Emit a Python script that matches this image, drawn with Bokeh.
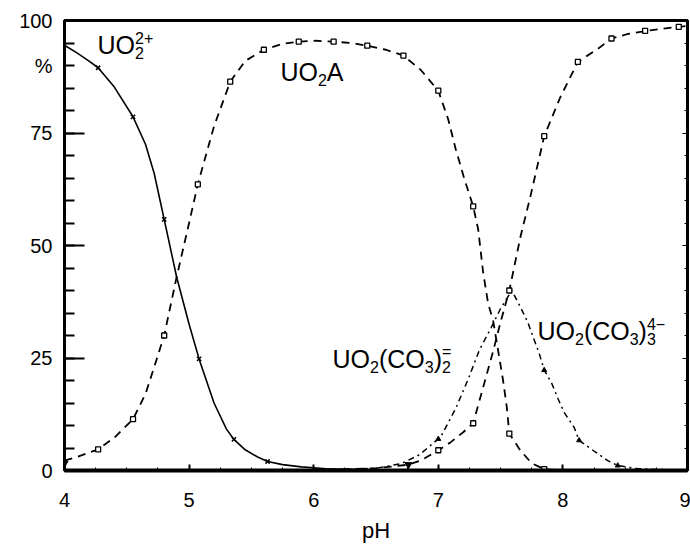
from bokeh.plotting import figure
from bokeh.models import LinearAxis, SingleIntervalTicker, FixedTicker, Label, CustomJSTickFormatter
from bokeh.embed import file_html
from bokeh.resources import INLINE

# Uranyl speciation (% of total U) versus pH
# UO2 2+ (solid line, x markers)
ph_uo2 = [4.0, 4.1, 4.2, 4.27, 4.4, 4.55, 4.65, 4.72, 4.8, 4.9, 5.0, 5.08, 5.2, 5.3,
          5.36, 5.45, 5.55, 5.63, 5.75, 5.9, 6.1, 6.4, 6.8, 9.0]
pct_uo2 = [94.5, 92.8, 90.9, 89.5, 85.2, 78.6, 72.5, 66.0, 55.8, 43.0, 32.5, 24.8, 15.0, 9.2,
           6.9, 4.6, 3.0, 2.0, 1.3, 0.8, 0.4, 0.2, 0.1, 0.0]
mk_ph_uo2 = [4.27, 4.55, 4.8, 5.08, 5.36, 5.63]
mk_pct_uo2 = [89.5, 78.6, 55.8, 24.8, 6.9, 2.0]

# UO2A complex (dashed line, square markers)
ph_uo2a = [4.0, 4.1, 4.27, 4.4, 4.55, 4.65, 4.72, 4.8, 4.9, 5.0, 5.07, 5.2, 5.33, 5.45,
           5.6, 5.75, 5.88, 6.02, 6.16, 6.3, 6.43, 6.58, 6.72, 6.86, 7.0, 7.08, 7.14,
           7.21, 7.28, 7.32, 7.36, 7.4, 7.44, 7.48, 7.52, 7.55, 7.57, 7.66, 7.75, 7.85, 8.0, 9.0]
pct_uo2a = [2.2, 3.0, 4.7, 7.3, 11.4, 17.0, 23.0, 30.0, 43.0, 55.0, 63.6, 76.5, 86.4, 91.0,
            93.5, 94.8, 95.3, 95.5, 95.3, 95.0, 94.4, 93.5, 92.2, 89.0, 84.4, 78.0, 71.4,
            64.7, 58.7, 53.6, 44.0, 37.1, 33.3, 26.7, 20.0, 14.0, 8.2, 4.4, 1.6, 0.3, 0.0, 0.0]
mk_ph_uo2a = [4.27, 4.55, 4.8, 5.07, 5.33, 5.6, 5.88, 6.16, 6.43, 6.72, 7.0, 7.28, 7.57, 7.85]
mk_pct_uo2a = [4.7, 11.4, 30.0, 63.6, 86.4, 93.5, 95.3, 95.3, 94.4, 92.2, 84.4, 58.7, 8.2, 0.3]

# UO2(CO3)2 2- (dash-dot line, filled triangle markers)
ph_dc = [6.0, 6.2, 6.5, 6.7, 6.85, 7.02, 7.14, 7.24, 7.33, 7.42, 7.5, 7.59, 7.67, 7.72,
         7.77, 7.81, 7.85, 7.91, 7.96, 8.01, 8.09, 8.13, 8.24, 8.36, 8.44, 8.6, 8.8, 9.0]
pct_dc = [0.1, 0.2, 0.5, 1.5, 3.5, 7.5, 13.8, 20.3, 26.8, 31.5, 36.0, 40.0, 35.7, 32.8,
          29.0, 26.0, 22.3, 19.4, 16.0, 12.9, 9.6, 6.7, 4.5, 2.2, 1.1, 0.4, 0.2, 0.1]
mk_ph_dc = [7.0, 7.85, 8.13, 8.44]
mk_pct_dc = [7.0, 22.3, 6.7, 1.1]

# UO2(CO3)3 4- (dashed line, square markers)
ph_tc = [6.0, 6.3, 6.5, 6.67, 6.76, 6.86, 7.0, 7.1, 7.2, 7.28, 7.36, 7.44, 7.5, 7.57,
         7.66, 7.74, 7.85, 7.98, 8.12, 8.28, 8.39, 8.52, 8.7, 8.93, 9.0]
pct_tc = [0.2, 0.3, 0.5, 1.0, 1.3, 2.2, 4.5, 6.3, 8.5, 10.5, 18.5, 26.5, 33.0, 40.0,
          52.0, 61.0, 74.3, 83.0, 90.8, 93.7, 96.0, 97.0, 97.8, 98.6, 98.8]
mk_ph_tc = [7.0, 7.28, 7.57, 7.85, 8.12, 8.39, 8.66, 8.93]
mk_pct_tc = [4.5, 10.5, 40.0, 74.3, 90.8, 96.0, 97.7, 98.6]

# curve starts drawn with a small down-pointing wedge
start_ph = [4.0, 6.76]
start_pct = [1.6, 1.3]

y_tick_values = [0, 25, 50, 75, 100]
y_unit_at = 90          # height of the "%" unit mark on the y scale

W, H = 690, 546
LEFT, RIGHT, TOP, BOTTOM = 64, 3, 20, 76
FONT = "Liberation Sans"

p = figure(width=W, height=H, x_range=(4, 9), y_range=(0, 100),
           output_backend="svg", toolbar_location=None,
           min_border_left=LEFT, min_border_right=RIGHT,
           min_border_top=TOP, min_border_bottom=BOTTOM)
p.xgrid.visible = False
p.ygrid.visible = False
p.background_fill_color = "white"
p.border_fill_color = "white"
p.outline_line_color = "black"
p.outline_line_width = 3

xa = p.xaxis[0]
xa.ticker = SingleIntervalTicker(interval=1, num_minor_ticks=4)
xa.axis_line_width = 4
xa.axis_line_color = "black"
xa.major_tick_in = 6
xa.major_tick_out = 0
xa.minor_tick_in = 3
xa.minor_tick_out = 0
xa.major_tick_line_width = 2
xa.major_label_standoff = 22
xa.major_label_text_font = FONT
xa.major_label_text_font_size = "20px"
xa.major_label_text_color = "black"
xa.axis_label = "pH"
xa.axis_label_text_font = FONT
xa.axis_label_text_font_size = "22px"
xa.axis_label_text_font_style = "normal"
xa.axis_label_text_color = "black"
xa.axis_label_standoff = 8

# inner left axis: the frame edge with its inward ticks
ya = p.yaxis[0]
ya.ticker = SingleIntervalTicker(interval=25, num_minor_ticks=5)
ya.formatter = CustomJSTickFormatter(code="return ''")
ya.axis_line_width = 2
ya.axis_line_color = "black"
ya.major_tick_in = 20
ya.major_tick_out = 0
ya.minor_tick_in = 10
ya.minor_tick_out = 0
ya.major_tick_line_width = 2
ya.minor_tick_line_width = 2
ya.major_label_standoff = 0

# outer left axis: numbers and the unit mark, no line or ticks
lab_axis = LinearAxis(
    ticker=FixedTicker(ticks=y_tick_values + [y_unit_at], minor_ticks=[]),
    formatter=CustomJSTickFormatter(
        args=dict(u=y_unit_at), code="return tick == u ? '%' : String(tick);"),
    axis_line_color=None, major_tick_line_color=None, minor_tick_line_color=None,
    major_tick_in=0, major_tick_out=0, minor_tick_in=0, minor_tick_out=0,
    major_label_standoff=12, major_label_text_font=FONT,
    major_label_text_font_size="20px", major_label_text_color="black")
p.add_layout(lab_axis, "left")

# right edge: inward ticks only, no labels
ra = LinearAxis(ticker=SingleIntervalTicker(interval=25, num_minor_ticks=5),
                formatter=CustomJSTickFormatter(code="return ''"),
                major_label_standoff=0,
                major_tick_in=5, major_tick_out=0, minor_tick_in=3, minor_tick_out=0,
                axis_line_width=2, axis_line_color="black")
p.add_layout(ra, "right")

# curves
p.line(ph_uo2, pct_uo2, line_color="black", line_width=1.6)
p.line(ph_uo2a, pct_uo2a, line_color="black", line_width=1.8, line_dash="8 6")
p.line(ph_tc, pct_tc, line_color="black", line_width=1.8, line_dash="8 6")
p.line(ph_dc, pct_dc, line_color="black", line_width=1.5, line_dash="6 4 2 4")

# markers
p.scatter(mk_ph_uo2, mk_pct_uo2, marker="x", size=6, line_color="black", line_width=1.5)
p.scatter(mk_ph_uo2a, mk_pct_uo2a, marker="square", size=5, line_color="black",
          fill_color="white", line_width=1.3)
p.scatter(mk_ph_tc, mk_pct_tc, marker="square", size=5, line_color="black",
          fill_color="white", line_width=1.3)
p.scatter(mk_ph_dc, mk_pct_dc, marker="triangle", size=5, line_color="black",
          fill_color="black")
p.scatter(start_ph, start_pct, marker="inverted_triangle", size=7, line_color="black",
          fill_color="black")

# pixel scale of the frame, used to place sub/superscript pieces
XPX = (W - LEFT - RIGHT) / 5.0
YPX = (H - TOP - BOTTOM) / 100.0

ADV = {"U": 0.722, "O": 0.778, "C": 0.722, "A": 0.667, "(": 0.333, ")": 0.333,
       "+": 0.584, "=": 0.584, "\u2212": 0.584}
BIG, SMALL, DROP, RISE = 25, 16, 8, 7
LIFT = 8  # px raise applied to every formula


def width(s, size):
    return sum(ADV.get(ch, 0.556) for ch in s) * size


def chem_label(x0, y0, parts):
    cur = 0.0

    def put(txt, size, dx, dy):
        p.add_layout(Label(x=x0 + dx / XPX, y=y0 + (dy + LIFT) / YPX, text=txt,
                           text_font=FONT, text_font_size=f"{size}px",
                           text_color="black", text_align="left",
                           text_baseline="alphabetic"))

    for part in parts:
        kind = part[0]
        if kind == "n":
            put(part[1], BIG, cur, 0)
            cur += width(part[1], BIG)
        elif kind == "s":
            put(part[1], SMALL, cur, -DROP)
            cur += width(part[1], SMALL)
        elif kind == "sp":
            put(part[1], SMALL, cur, -DROP)
            put(part[2], SMALL, cur, RISE)
            cur += max(width(part[1], SMALL), width(part[2], SMALL))


chem_label(4.265, 92.7, [("n", "UO"), ("sp", "2", "2+")])
chem_label(5.733, 86.7, [("n", "UO"), ("s", "2"), ("n", "A")])
chem_label(6.151, 23.1, [("n", "UO"), ("s", "2"), ("n", "(CO"), ("s", "3"), ("n", ")"),
                         ("sp", "2", "=")])
chem_label(7.796, 29.3, [("n", "UO"), ("s", "2"), ("n", "(CO"), ("s", "3"), ("n", ")"),
                         ("sp", "3", "4\u2212")])

open("out.html", "w").write(file_html(p, INLINE))
